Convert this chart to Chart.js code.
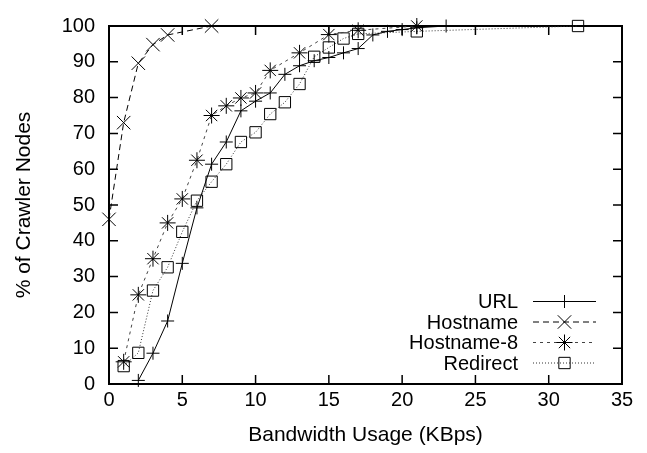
<!DOCTYPE html>
<html>
<head>
<meta charset="utf-8">
<script src="https://cdn.jsdelivr.net/npm/chart.js@4.4.1/dist/chart.umd.min.js"></script>
<style>
  body { margin: 0; background: #fff; }
  #wrap { width: 647px; height: 453px; }
</style>
</head>
<body>
<div id="wrap"><canvas id="cdf-chart"></canvas></div>
<script>
// bandwidth usage (KBps) against cumulative % of crawler nodes
var urlX = [2, 3, 4, 5, 6, 7, 8, 9, 10, 11, 12, 13, 14, 15, 16, 17, 18, 19, 20, 21, 23];
var urlY = [1, 8.6, 17.6, 33.7, 49.2, 61.4, 67.6, 76.3, 79, 81.3, 86.5, 88.9, 90.3, 91.2, 92.5, 93.7, 97.5, 98.5, 99, 99.5, 100];

var hostX = [0, 1, 2, 3, 4, 7];
var hostY = [46, 73, 89.6, 94.8, 97.5, 100];

var host8X = [1, 2, 3, 4, 5, 6, 7, 8, 9, 10, 11, 13, 15, 17, 21];
var host8Y = [6.2, 24.9, 35, 45, 51.7, 62.5, 75, 77.7, 79.9, 81.3, 87.6, 92.5, 97.6, 98.8, 100];

var redirX = [1, 2, 3, 4, 5, 6, 7, 8, 9, 10, 11, 12, 13, 14, 15, 16, 17, 21, 32];
var redirY = [5, 8.7, 26.1, 32.6, 42.5, 51.2, 56.5, 61.4, 67.6, 70.3, 75.4, 78.7, 83.8, 91.4, 94, 96.5, 97.8, 98.5, 100];

var seriesNames = ["URL", "Hostname", "Hostname-8", "Redirect"];

function pts(xs, ys) {
  return xs.map(function (x, i) { return { x: x, y: ys[i] }; });
}

function series(label, data, dash, lineColor, style, radius) {
  return {
    label: label,
    data: data,
    borderColor: lineColor,
    borderWidth: 1,
    borderDash: dash,
    pointStyle: style,
    pointRadius: radius,
    pointHoverRadius: radius,
    pointBorderColor: "#000",
    pointBackgroundColor: "rgba(0,0,0,0)",
    pointBorderWidth: 1,
    tension: 0,
    fill: false,
    clip: false
  };
}

// gnuplot-like box with inward ticks on all four sides
var framePlugin = {
  id: "frame",
  beforeDatasetsDraw: function (chart) {
    var ctx = chart.ctx, a = chart.chartArea, len = 9;
    ctx.save();
    ctx.strokeStyle = "#000";
    ctx.lineWidth = 1.5;
    ctx.beginPath();
    chart.scales.x.ticks.forEach(function (t) {
      var px = chart.scales.x.getPixelForValue(t.value);
      ctx.moveTo(px, a.bottom); ctx.lineTo(px, a.bottom - len);
      ctx.moveTo(px, a.top); ctx.lineTo(px, a.top + len);
    });
    chart.scales.y.ticks.forEach(function (t) {
      var py = chart.scales.y.getPixelForValue(t.value);
      ctx.moveTo(a.left, py); ctx.lineTo(a.left + len, py);
      ctx.moveTo(a.right, py); ctx.lineTo(a.right - len, py);
    });
    ctx.stroke();
    ctx.lineWidth = 2;
    ctx.strokeRect(a.left, a.top, a.right - a.left, a.bottom - a.top);
    ctx.restore();
  }
};

// key in the lower right corner: name, then line sample with its marker
var keyPlugin = {
  id: "key",
  afterDraw: function (chart) {
    var ctx = chart.ctx, a = chart.chartArea;
    var sets = chart.data.datasets;
    var rowH = 20.5;
    var textRight = a.right - 104, x1 = a.right - 89, x2 = a.right - 26;
    var mid = (x1 + x2) / 2;
    ctx.save();
    ctx.font = "20px 'Liberation Sans', Arial, sans-serif";
    ctx.textAlign = "right";
    ctx.textBaseline = "middle";
    sets.forEach(function (ds, i) {
      var y = a.bottom - 21 - (sets.length - 1 - i) * rowH;
      ctx.fillStyle = "#000";
      ctx.fillText(ds.label, textRight, y + 1);
      ctx.beginPath();
      ctx.setLineDash(ds.borderDash);
      ctx.strokeStyle = ds.borderColor;
      ctx.lineWidth = 1;
      ctx.moveTo(x1, y); ctx.lineTo(x2, y);
      ctx.stroke();
      ctx.setLineDash([]);
      ctx.strokeStyle = "#000";
      ctx.fillStyle = "rgba(0,0,0,0)";
      ctx.lineWidth = 1;
      Chart.helpers.drawPoint(ctx, { pointStyle: ds.pointStyle, radius: ds.pointRadius, rotation: 0, borderWidth: 1 }, mid, y);
    });
    ctx.restore();
  }
};

Chart.defaults.font.family = "'Liberation Sans', Arial, sans-serif";
Chart.defaults.color = "#000";

new Chart(document.getElementById("cdf-chart"), {
  type: "line",
  data: {
    datasets: [
      series(seriesNames[0], pts(urlX, urlY), [], "#000", "cross", 6.5),
      series(seriesNames[1], pts(hostX, hostY), [6, 4], "#000", "crossRot", 9.5),
      series(seriesNames[2], pts(host8X, host8Y), [3, 4], "#444", "star", 8),
      series(seriesNames[3], pts(redirX, redirY), [1, 2], "#333", "rect", 8)
    ]
  },
  options: {
    responsive: true,
    maintainAspectRatio: false,
    animation: false,
    events: [],
    layout: { padding: { top: 14, right: 25, left: 0, bottom: 0 } },
    plugins: {
      legend: { display: false },
      tooltip: { enabled: false }
    },
    scales: {
      x: {
        type: "linear",
        min: 0,
        max: 35,
        ticks: { stepSize: 5, padding: 4, font: { size: 20 } },
        grid: { display: false, drawTicks: false },
        border: { display: false },
        title: { display: true, text: "Bandwidth Usage (KBps)", font: { size: 21 }, padding: { top: 0, bottom: 5 } },
        afterFit: function (s) { s.height = 69; }
      },
      y: {
        min: 0,
        max: 100,
        ticks: { stepSize: 10, padding: 14, font: { size: 20 } },
        grid: { display: false, drawTicks: false },
        border: { display: false },
        title: { display: true, text: "% of Crawler Nodes", font: { size: 21 }, padding: { top: 12, bottom: 0 } },
        afterFit: function (s) { s.width = 109; }
      }
    }
  },
  plugins: [framePlugin, keyPlugin]
});
</script>
</body>
</html>
